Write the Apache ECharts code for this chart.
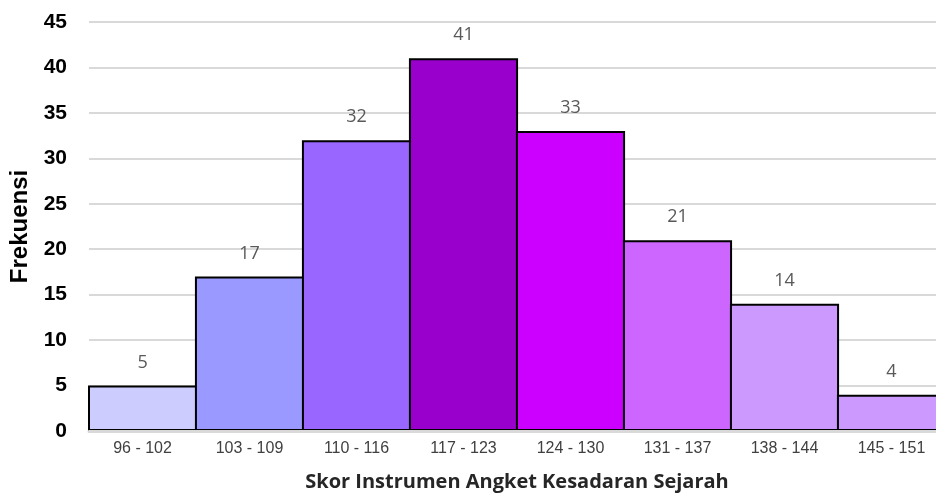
<!DOCTYPE html>
<html>
<head>
<meta charset="utf-8">
<script src="https://cdn.jsdelivr.net/npm/echarts@6/dist/echarts.min.js"></script>
<style>
  html, body { margin: 0; padding: 0; background: #fff; }
  #chart { width: 936px; height: 497px; }
</style>
</head>
<body>
<div id="chart"></div>
<script>
  // kelas interval skor dan frekuensinya
  var categories = ['96 - 102', '103 - 109', '110 - 116', '117 - 123', '124 - 130', '131 - 137', '138 - 144', '145 - 151'];
  var frekuensi = [5, 17, 32, 41, 33, 21, 14, 4];
  var barColors = ['#ccccff', '#9999ff', '#9966ff', '#9900cc', '#cc00ff', '#cc66ff', '#cc99ff', '#cc99ff'];

  var myChart = echarts.init(document.getElementById('chart'));

  var seriesData = frekuensi.map(function (v, i) {
    return { value: v, itemStyle: { color: barColors[i] } };
  });

  var options = {
    animation: false,
    grid: { left: 89, top: 22, right: -9, bottom: 66, containLabel: false, outerBoundsMode: 'none' },
    xAxis: {
      type: 'category',
      data: categories,
      z: 5,
      name: 'Skor Instrumen Angket Kesadaran Sejarah',
      nameLocation: 'middle',
      nameGap: 41,
      nameTextStyle: { fontFamily: 'Open Sans', fontWeight: 'bold', fontSize: 20, color: '#262626' },
      axisLine: { show: true, lineStyle: { color: '#d9d9d9', width: 3 } },
      axisTick: { show: false },
      axisLabel: { fontFamily: 'Liberation Sans', fontSize: 16, color: '#404040', margin: 10 }
    },
    yAxis: {
      type: 'value',
      min: 0,
      max: 45,
      interval: 5,
      name: 'Frekuensi',
      nameLocation: 'middle',
      nameGap: 52,
      nameTextStyle: { fontFamily: 'Liberation Sans', fontWeight: 'bold', fontSize: 24, color: '#000' },
      axisLine: { show: false },
      axisTick: { show: false },
      axisLabel: { fontFamily: 'Liberation Sans', fontWeight: 'bold', fontSize: 21, color: '#000', margin: 22 },
      splitLine: { lineStyle: { color: '#d9d9d9', width: 2 } }
    },
    series: [{
      type: 'bar',
      data: seriesData,
      barWidth: '102%',
      barCategoryGap: '0%',
      itemStyle: { borderColor: '#000', borderWidth: 2 },
      label: {
        show: true,
        position: 'top',
        distance: 14,
        fontFamily: 'Open Sans',
        fontSize: 18,
        color: '#595959'
      }
    }]
  };

  myChart.setOption(options);
</script>
</body>
</html>
